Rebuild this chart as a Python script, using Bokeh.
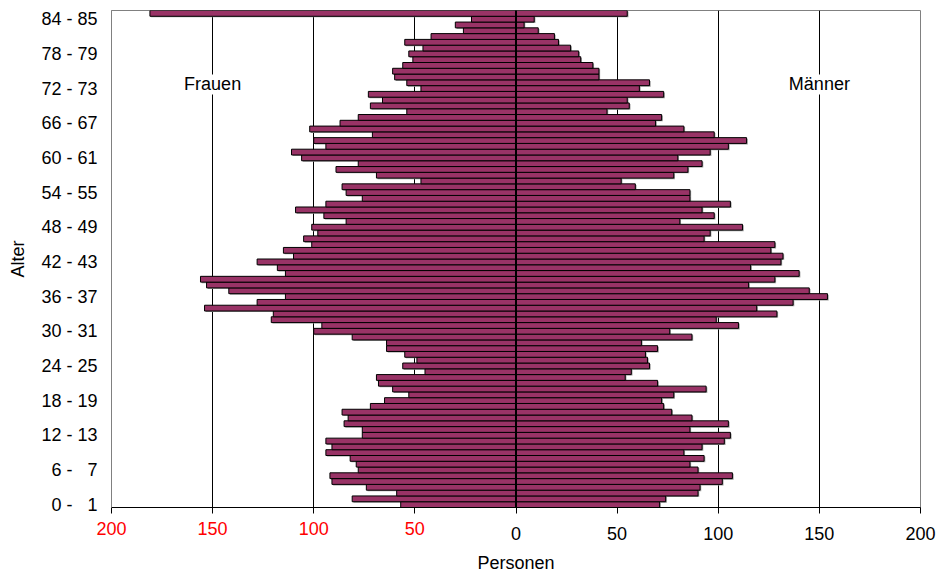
from bokeh.plotting import figure
from bokeh.models import ColumnDataSource, Range1d, FixedTicker, Label, Span, LinearAxis
from bokeh.transform import dodge
from bokeh.embed import file_html
from bokeh.resources import INLINE

# ---- data -------------------------------------------------------------
ages = list(range(86))  # 0 ... 85 (last one = 85 und älter)

female = [57, 81, 59, 74, 91, 92, 78, 79, 82, 94,
          91, 94, 76, 76, 85, 83, 86, 72, 65, 53,
          61, 68, 69, 45, 56, 49, 55, 64, 64, 81,
          100, 96, 121, 120, 154, 128, 114, 142, 153, 156,
          114, 118, 128, 110, 115, 101, 105, 98, 101, 84,
          95, 109, 94, 76, 84, 86, 47, 69, 89, 78,
          106, 111, 94, 100, 71, 102, 87, 78, 54, 72,
          66, 73, 47, 54, 60, 61, 56, 51, 53, 46,
          55, 42, 26, 30, 22, 181]

male = [71, 74, 90, 91, 102, 107, 90, 86, 93, 83,
        92, 103, 106, 86, 105, 87, 77, 73, 72, 78,
        94, 70, 54, 57, 66, 65, 64, 70, 62, 87,
        76, 110, 99, 129, 119, 137, 154, 145, 115, 128,
        140, 116, 131, 132, 126, 128, 93, 96, 112, 81,
        98, 92, 106, 86, 86, 59, 52, 78, 85, 92,
        80, 96, 105, 114, 98, 83, 69, 72, 45, 56,
        55, 73, 61, 66, 41, 41, 38, 32, 31, 27,
        21, 19, 11, 4, 9, 55]

age_ticks = [0, 6, 12, 18, 24, 30, 36, 42, 48, 54, 60, 66, 72, 78, 84]
age_tick_labels = ["0 - \u20071", "6 - \u20077", "12 - 13", "18 - 19", "24 - 25",
                   "30 - 31", "36 - 37", "42 - 43", "48 - 49", "54 - 55",
                   "60 - 61", "66 - 67", "72 - 73", "78 - 79", "84 - 85"]

x_ticks = [-200, -150, -100, -50, 0, 50, 100, 150, 200]
neg_ticks = [-200, -150, -100, -50]
neg_tick_labels = ["200", "150", "100", "50"]
pos_ticks = [0, 50, 100, 150, 200]
pos_tick_labels = ["0", "50", "100", "150", "200"]

FONT = "Liberation Sans"
BAR = "#993366"

src = ColumnDataSource(dict(
    age=ages,
    female_left=[-v for v in female],
    male=male,
))

p = figure(width=940, height=576,
           x_range=Range1d(-200, 200), y_range=Range1d(-0.5, 85.5),
           output_backend="svg", toolbar_location=None,
           min_border_left=111, min_border_right=20,
           min_border_top=10, min_border_bottom=69)

p.background_fill_color = "white"
p.border_fill_color = "white"
p.outline_line_color = "#808080"
p.outline_line_width = 1

# grid
p.xgrid.ticker = FixedTicker(ticks=[-150, -100, -50, 50, 100, 150])
p.xgrid.grid_line_color = "black"
p.xgrid.grid_line_width = 1
p.ygrid.grid_line_color = None

# shadows
p.hbar(y=dodge("age", -0.18), left=dodge("female_left", 0.6), right=0.6, height=1.0,
       source=src, fill_color="#9a9a9a", line_color=None)
p.hbar(y=dodge("age", -0.18), left=0.6, right=dodge("male", 0.6), height=1.0,
       source=src, fill_color="#9a9a9a", line_color=None)

# bars
p.hbar(y="age", left="female_left", right=0, height=1.0, source=src,
       fill_color=BAR, line_color="black", line_width=1)
p.hbar(y="age", left=0, right="male", height=1.0, source=src,
       fill_color=BAR, line_color="black", line_width=1)

p.add_layout(Span(location=0, dimension="height", line_color="black", line_width=2))

# y axis
ya = p.yaxis[0]
ya.ticker = FixedTicker(ticks=age_ticks)
ya.major_label_overrides = {t: l for t, l in zip(age_ticks, age_tick_labels)}
ya.major_tick_line_color = None
ya.minor_tick_line_color = None
ya.major_tick_out = 0
ya.major_tick_in = 0
ya.axis_line_color = "#808080"
ya.major_label_standoff = 14
ya.major_label_text_font = FONT
ya.major_label_text_font_size = "18px"
ya.major_label_text_color = "black"
ya.axis_label = "Alter"
ya.axis_label_text_font = FONT
ya.axis_label_text_font_size = "18px"
ya.axis_label_text_font_style = "normal"
ya.axis_label_text_color = "black"
ya.axis_label_standoff = 10

# x axis A (next to the plot): ticks everywhere, black labels for the men's side
xa = p.xaxis[0]
xa.ticker = FixedTicker(ticks=x_ticks)
xa.major_label_overrides = {t: "" for t in neg_ticks}
xa.major_label_overrides.update({t: l for t, l in zip(pos_ticks, pos_tick_labels)})
xa.major_tick_line_color = "black"
xa.minor_tick_line_color = None
xa.major_tick_out = 6
xa.major_tick_in = 0
xa.axis_line_color = "black"
xa.major_label_standoff = 13
xa.major_label_text_font = FONT
xa.major_label_text_font_size = "18px"
xa.major_label_text_color = "black"

# x axis B (stacked below A): red labels for the women's side, pulled up to the same row
xb = LinearAxis(ticker=FixedTicker(ticks=neg_ticks))
xb.major_label_overrides = {t: l for t, l in zip(neg_ticks, neg_tick_labels)}
xb.axis_line_color = None
xb.major_tick_line_color = None
xb.minor_tick_line_color = None
xb.major_tick_out = 0
xb.major_tick_in = 0
xb.major_label_standoff = -21
xb.major_label_text_font = FONT
xb.major_label_text_font_size = "18px"
xb.major_label_text_color = "#ff0000"
xb.axis_label = "Personen"
xb.axis_label_text_font = FONT
xb.axis_label_text_font_size = "18px"
xb.axis_label_text_font_style = "normal"
xb.axis_label_text_color = "black"
xb.axis_label_standoff = 15
p.add_layout(xb, "below")

for xx, txt in [(-150, "Frauen"), (150, "Männer")]:
    p.add_layout(Label(x=xx, y=72.7, text=txt, text_align="center", text_baseline="middle",
                       text_font=FONT, text_font_size="18px", text_color="black",
                       background_fill_color="white"))

open("out.html", "w").write(file_html(p, INLINE))
